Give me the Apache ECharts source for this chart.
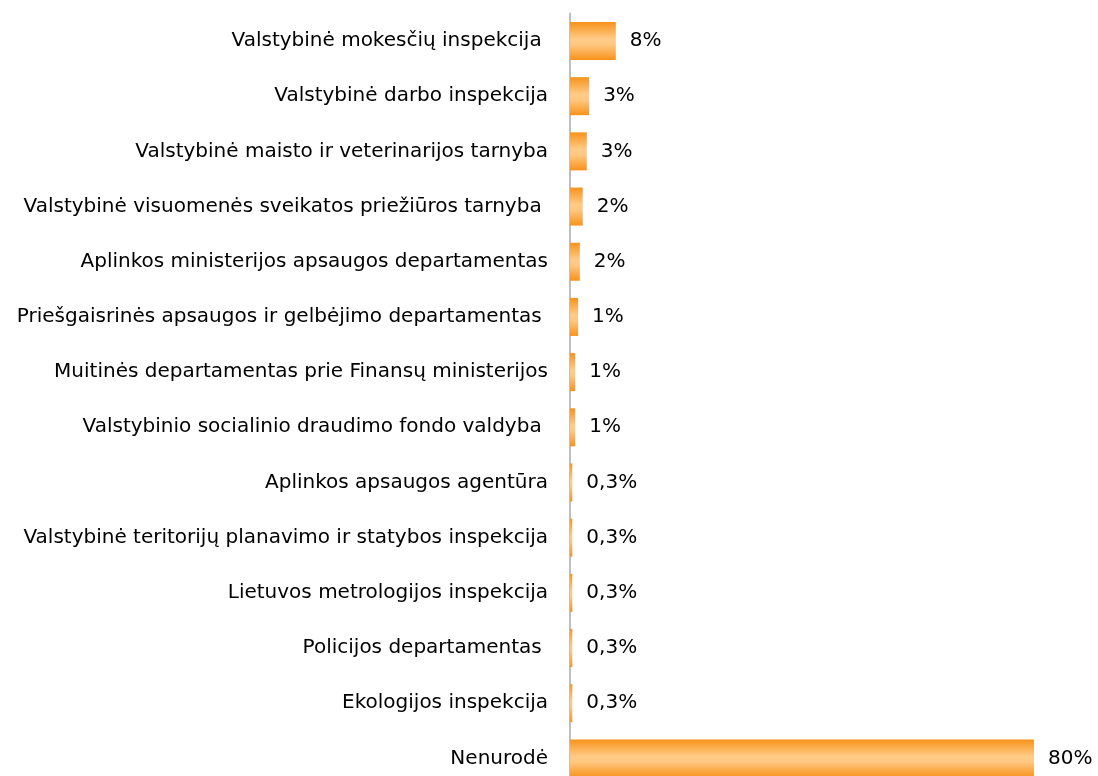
<!DOCTYPE html>
<html>
<head>
<meta charset="utf-8">
<script src="https://cdn.jsdelivr.net/npm/echarts@6/dist/echarts.min.js"></script>
<style>
html,body{margin:0;padding:0;background:#fff;overflow:hidden;width:1098px;height:776px;}
#chart{width:1098px;height:786px;}
</style>
</head>
<body>
<div id="chart"></div>
<script>
const categories = [
  "Valstybinė mokesčių inspekcija ",
  "Valstybinė darbo inspekcija",
  "Valstybinė maisto ir veterinarijos tarnyba",
  "Valstybinė visuomenės sveikatos priežiūros tarnyba ",
  "Aplinkos ministerijos apsaugos departamentas",
  "Priešgaisrinės apsaugos ir gelbėjimo departamentas ",
  "Muitinės departamentas prie Finansų ministerijos",
  "Valstybinio socialinio draudimo fondo valdyba ",
  "Aplinkos apsaugos agentūra",
  "Valstybinė teritorijų planavimo ir statybos inspekcija",
  "Lietuvos metrologijos inspekcija",
  "Policijos departamentas ",
  "Ekologijos inspekcija",
  "Nenurodė"
];
const values = [7.9, 3.3, 2.9, 2.2, 1.7, 1.4, 0.9, 0.9, 0.4, 0.4, 0.4, 0.4, 0.4, 80];
const valueLabels = ["8%", "3%", "3%", "2%", "2%", "1%", "1%", "1%", "0,3%", "0,3%", "0,3%", "0,3%", "0,3%", "80%"];

const chart = echarts.init(document.getElementById('chart'));
const FONT = "DejaVu Sans";
chart.setOption({
  animation: false,
  grid: { left: 570, right: 64, top: 13.4, bottom: 0, containLabel: false },
  xAxis: {
    type: 'value', min: 0, max: 80,
    show: false,
    splitLine: { show: false }
  },
  yAxis: {
    type: 'category',
    data: categories,
    inverse: true,
    axisLine: { show: true, lineStyle: { color: '#BFBFBF', width: 2 } },
    axisTick: { show: false },
    axisLabel: { color: '#000', fontFamily: FONT, fontSize: 20, margin: 22 }
  },
  series: [{
    type: 'bar',
    data: values,
    barWidth: 38,
    itemStyle: {
      color: new echarts.graphic.LinearGradient(0, 0, 0, 1, [
        { offset: 0, color: '#F8921A' },
        { offset: 0.45, color: '#FFCC88' },
        { offset: 0.6, color: '#FFC780' },
        { offset: 1, color: '#F8921A' }
      ])
    },
    label: {
      show: true, position: 'right', distance: 14,
      color: '#000', fontFamily: FONT, fontSize: 20,
      formatter: p => valueLabels[p.dataIndex]
    }
  }]
});
</script>
</body>
</html>
